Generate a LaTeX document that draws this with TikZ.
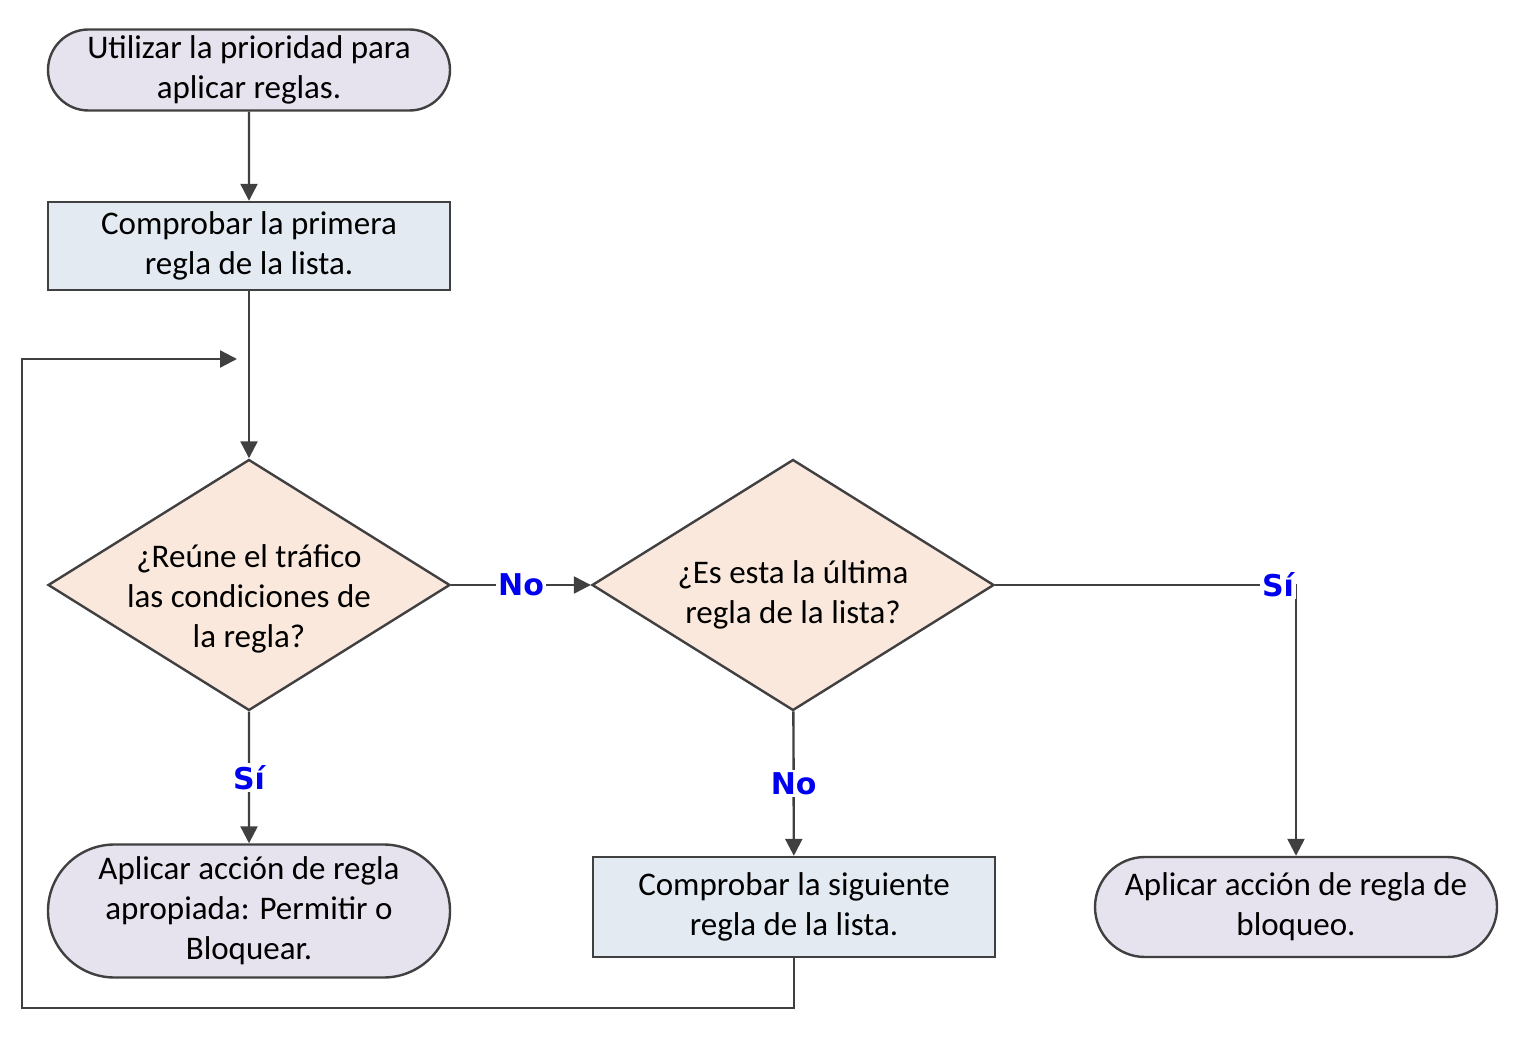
\documentclass[tikz,border=0pt]{standalone}
\usepackage{fontspec}
\setmainfont{Carlito}
\newfontfamily\answerfont{DejaVu Sans}
\usetikzlibrary{positioning,shapes.geometric,shapes.misc,arrows.meta}
\definecolor{linegray}{HTML}{404040}
\definecolor{termfill}{HTML}{E6E2EE}
\definecolor{procfill}{HTML}{E3EAF2}
\definecolor{decfill}{HTML}{FAE8DC}
\definecolor{ansblue}{HTML}{0000F0}

\begin{document}
\begin{tikzpicture}[x=0.5pt,y=-0.5pt,
        base/.style={
            draw=linegray,
            line width=1.2pt,
            align=center,
            inner sep=0pt,
            font=\fontsize{16.5}{20}\selectfont
        },
        term/.style={base, rounded rectangle, fill=termfill, minimum width=201pt},
        proc/.style={base, rectangle, fill=procfill, minimum width=201pt},
        decision/.style={base, diamond, fill=decfill, minimum width=201pt, minimum height=125.5pt},
        dectext/.style={align=center, inner sep=0pt, font=\fontsize{16.5}{20}\selectfont, yshift=-5pt},
        conn/.style={draw=linegray, line width=1.2pt, -{Triangle[length=8.5pt,width=8.5pt]}},
        answer/.style={font=\answerfont\bfseries\fontsize{15}{18}\selectfont, text=ansblue, fill=white, inner sep=1pt}
    ]
        \useasboundingbox (0,0) rectangle (1519,1052);

        \node[term, minimum height=40.5pt] (start) at (249,70) {Utilizar la prioridad para\\aplicar reglas.};
        \node[proc, minimum height=44pt] (first) at (249,246) {Comprobar la primera\\regla de la lista.};
        \node[decision, label={[dectext, yshift=-2pt]center:{¿Reúne el tráfico\\las condiciones de\\la regla?}}] (match) at (249,585) {};
        \node[decision, label={[dectext]center:{¿Es esta la última\\regla de la lista?}}] (last) at (793,585) {};
        \node[term, minimum height=66.5pt] (apply) at (249,911) {Aplicar acción de regla\\apropiada: Permitir o\\Bloquear.};
        \node[proc, minimum height=50pt] (next) at (794,907) {Comprobar la siguiente\\regla de la lista.};
        \node[term, minimum height=50pt] (block) at (1296,907) {Aplicar acción de regla de\\bloqueo.};
        \coordinate (loopend) at (237,359);

        \draw[conn] (start) -- (first);
        \draw[conn] (first) -- (match);
        \draw[conn] (match) -- node[answer] {No} (last);
        \draw[conn] (match) -- node[answer] {Sí} (apply);
        \draw[conn] (last) -- node[answer] {No} (next);
        \draw[conn] (last.east) -| node[answer, pos=0.47] {Sí} (block.north);
        \draw[conn] (next.south) -- ++(0,50) -| (22,359) -- (loopend);
\end{tikzpicture}
\end{document}
